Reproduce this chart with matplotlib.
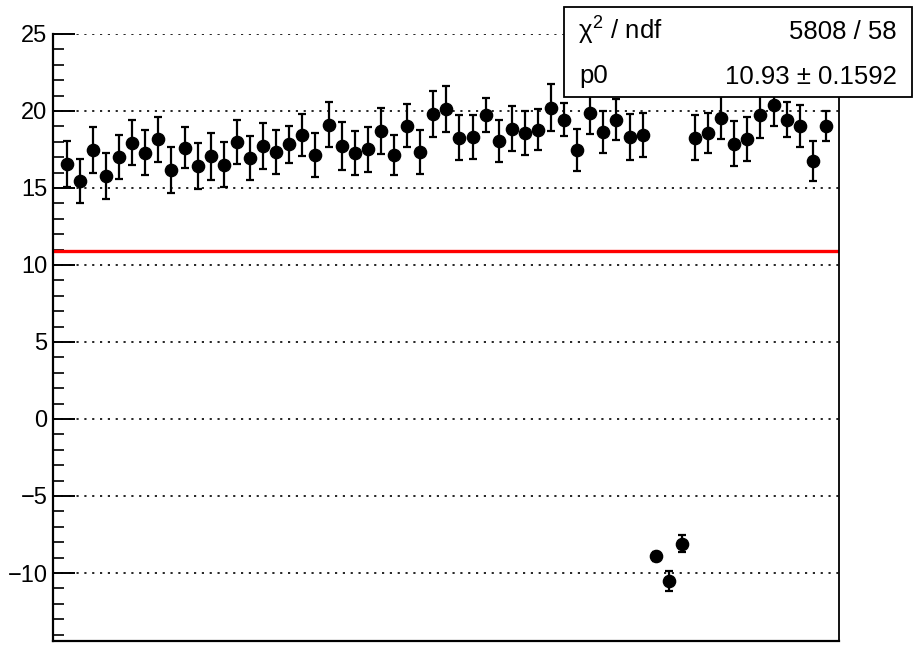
import matplotlib
matplotlib.use("Agg")
import matplotlib.pyplot as plt
from matplotlib.patches import Rectangle
from matplotlib.ticker import MultipleLocator, FuncFormatter
import numpy as np

plt.rcParams['font.family'] = ['Liberation Sans', 'DejaVu Sans']
plt.rcParams['mathtext.fontset'] = 'custom'
plt.rcParams['mathtext.rm'] = 'Liberation Sans'
plt.rcParams['mathtext.it'] = 'Liberation Sans'

# ---- data ----
x_index = list(range(1, 60))
y_values = [16.54, 15.43, 17.45, 15.80, 17.00, 17.95, 17.30, 18.16, 16.15, 17.62,
            16.41, 17.06, 16.52, 17.99, 16.95, 17.73, 17.34, 17.84, 18.42, 17.14,
            19.12, 17.71, 17.28, 17.51, 18.72, 17.17, 19.05, 17.34, 19.81, 20.15,
            18.27, 18.31, 19.74, 18.05, 18.86, 18.57, 18.79, 20.22, 19.44, 17.47,
            19.87, 18.64, 19.44, 18.31, 18.47, -8.92, -10.52, -8.09, 18.25, 18.57,
            19.57, 17.88, 18.21, 19.77, 20.37, 19.44, 19.03, 16.73, 19.01]
y_errors = [1.48, 1.43, 1.49, 1.49, 1.44, 1.48, 1.46, 1.48, 1.49, 1.32,
            1.49, 1.52, 1.45, 1.45, 1.43, 1.48, 1.41, 1.21, 1.36, 1.44,
            1.48, 1.55, 1.44, 1.46, 1.49, 1.30, 1.41, 1.44, 1.49, 1.49,
            1.48, 1.45, 1.08, 1.37, 1.44, 1.44, 1.35, 1.55, 1.06, 1.38,
            1.38, 1.36, 1.34, 1.49, 1.43, 0.30, 0.66, 0.57, 1.46, 1.30,
            1.41, 1.44, 1.43, 1.50, 1.36, 1.15, 1.38, 1.30, 0.97]
fit_p0 = 10.93
fit_p0_err = 0.1592
chi2 = 5808
ndf = 58
y_major_ticks = [-10, -5, 0, 5, 10, 15, 20, 25]

W, H = 915, 648
fig = plt.figure(figsize=(W / 100, H / 100), dpi=100)
L, R, T, B = 53, 839, 34, 641
ax = fig.add_axes([L / W, 1 - B / H, (R - L) / W, (B - T) / H])

ax.set_xlim(-0.05, 60.0)
ax.set_ylim(25 - (B - T) / 15.4, 25.0)

# grid at major y ticks
for v in y_major_ticks:
    ax.axhline(v, color='black', lw=1.2, linestyle=(0, (1.3, 3.4)), zorder=1)

# fit line
ax.plot([-0.05, 60.0], [fit_p0, fit_p0], color='#ff0000', lw=2.4, zorder=2,
        solid_capstyle='butt')

ax.errorbar(x_index, y_values, yerr=y_errors, fmt='o', color='black',
            markersize=8.8, elinewidth=1.6, capsize=3, capthick=1.6, zorder=3)

ax.yaxis.set_major_locator(MultipleLocator(5))
ax.yaxis.set_minor_locator(MultipleLocator(1))
ax.yaxis.set_major_formatter(FuncFormatter(lambda v, p: f"{int(v)}".replace('-', '\u2212')))
ax.tick_params(axis='y', which='major', direction='in', length=16, width=1.4,
               labelsize=17, pad=4)
ax.tick_params(axis='y', which='minor', direction='in', length=8, width=1.2)
ax.tick_params(axis='y', right=False)
ax.set_xticks([])

ax.spines['top'].set_visible(False)
ax.spines['left'].set_linewidth(1.6)
ax.spines['bottom'].set_linewidth(1.6)
ax.spines['right'].set_linewidth(1.3)

# stats box
bx0, bx1, by0, by1 = 564, 912, 7, 97
fig.add_artist(Rectangle((bx0 / W, 1 - by1 / H), (bx1 - bx0) / W, (by1 - by0) / H,
                         transform=fig.transFigure, facecolor='white',
                         edgecolor='black', lw=1.3, zorder=10))
fs = 18.5
fig.text(578 / W, 1 - 31 / H, r'$\chi^{2}$ / ndf', fontsize=fs, ha='left', va='center', zorder=11)
fig.text(897 / W, 1 - 32 / H, f'{chi2} / {ndf}', fontsize=fs, ha='right', va='center', zorder=11)
fig.text(579 / W, 1 - 76 / H, 'p0', fontsize=fs, ha='left', va='center', zorder=11)
fig.text(897 / W, 1 - 77 / H, f'{fit_p0:.2f} \u00b1 {fit_p0_err:.4f}', fontsize=fs,
         ha='right', va='center', zorder=11)

fig.savefig('out.png', dpi=100)
